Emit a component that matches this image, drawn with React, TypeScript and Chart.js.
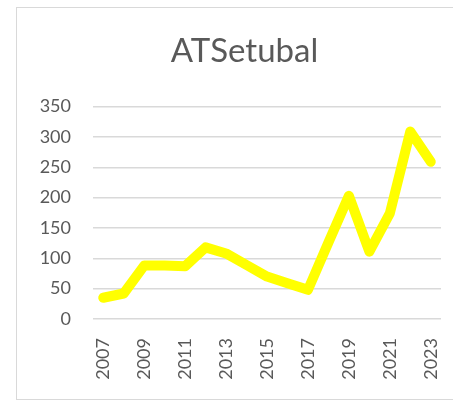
import React, { useEffect, useRef } from "react";
import { Chart, registerables } from "chart.js";

Chart.register(...registerables);

const years = ["2007","2008","2009","2010","2011","2012","2013","2014","2015","2016","2017","2018","2019","2020","2021","2022","2023"];
const values = [35, 42, 88, 88, 87, 118, 108, 89, 70, 59, 48, 126, 203, 111, 174, 309, 259];
const chartTitle = "ATSetubal";
const seriesName = "ATSetubal";

export default function App() {
  const ref = useRef<HTMLCanvasElement | null>(null);
  useEffect(() => {
    if (!ref.current) return;
    const font = "Lato, 'Open Sans', sans-serif";
    const chart = new Chart(ref.current, {
      type: "line",
      data: {
        labels: years,
        datasets: [
          {
            label: seriesName,
            data: values,
            borderColor: "#FFFF00",
            backgroundColor: "#FFFF00",
            borderWidth: 10,
            pointRadius: 0,
            borderCapStyle: "round",
            borderJoinStyle: "round",
            tension: 0,
            yAxisID: "y",
          },
        ],
      },
      options: {
        animation: false,
        responsive: false,
        layout: { padding: { left: 0, right: 0, top: 0, bottom: 0 } },
        plugins: {
          legend: { display: false },
          tooltip: { enabled: false },
          title: {
            display: true,
            text: chartTitle,
            color: "#595959",
            font: { family: font, size: 33, weight: "normal" },
            padding: { top: 24, bottom: 35 },
          },
        },
        scales: {
          x: {
            offset: true,
            grid: { display: false, offset: true },
            border: { display: false },
            ticks: {
              color: "#595959",
              font: { family: font, size: 18 },
              maxRotation: 90,
              minRotation: 90,
              autoSkip: false,
              padding: 11,
              callback: (_v: any, i: number) => (i % 2 === 0 ? years[i] : ""),
            },
            afterFit: (s: any) => {
              s.height = 80;
            },
          },
          y: {
            min: 0,
            max: 350,
            grid: { color: "#d9d9d9", lineWidth: 1.5, drawTicks: false },
            border: { display: false },
            ticks: {
              stepSize: 50,
              color: "#595959",
              font: { family: font, size: 18 },
              padding: 22,
            },
            afterFit: (s: any) => {
              s.width = 76;
            },
          },
          yRight: {
            position: "right",
            min: 0,
            max: 350,
            grid: { display: false },
            border: { display: false },
            ticks: { display: false },
            afterFit: (s: any) => {
              s.width = 31;
            },
          },
        },
      },
    });
    return () => chart.destroy();
  }, []);
  return (
    <div
      style={{
        position: "absolute",
        left: 16,
        top: 7,
        width: 437,
        height: 394,
        overflow: "hidden",
      }}
    >
      <div
        style={{
          width: 455,
          height: 391,
          border: "1px solid #d9d9d9",
          background: "#fff",
        }}
      >
        <canvas ref={ref} width={455} height={391} style={{ display: "block" }} />
      </div>
    </div>
  );
}
